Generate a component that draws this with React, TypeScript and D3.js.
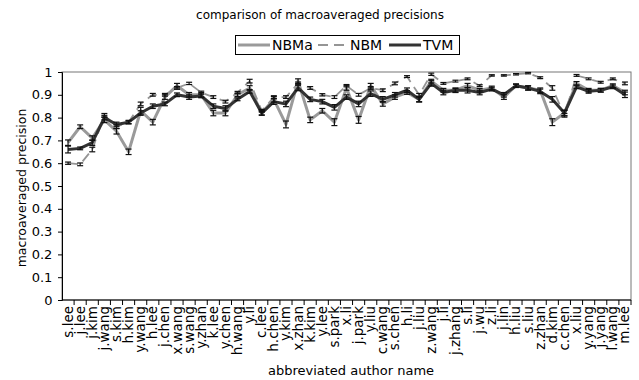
import React, { useEffect, useRef } from 'react';
import * as d3 from 'd3';

const categories = [
  's.lee', 'j.lee', 'j.kim', 'j.wang', 's.kim', 'h.kim', 'y.wang', 'h.lee', 'j.chen', 'x.wang',
  's.wang', 'y.zhan', 'k.lee', 'y.chen', 'h.wang', 'y.li', 'c.lee', 'h.chen', 'y.kim', 'x.zhan',
  'k.kim', 'y.lee', 's.park', 'x.li', 'j.park', 'y.liu', 'c.wang', 's.chen', 'h.li', 'j.liu',
  'z.wang', 'j.li', 'j.zhang', 's.li', 'j.wu', 'z.li', 'j.lin', 'h.liu', 's.liu', 'z.zhan',
  'd.kim', 'c.chen', 'x.liu', 'y.yang', 'j.yang', 'l.wang', 'm.lee',
];

const nbma = [
  0.69, 0.76, 0.71, 0.79, 0.74, 0.65, 0.83, 0.78, 0.89, 0.94,
  0.9, 0.9, 0.82, 0.82, 0.9, 0.93, 0.82, 0.88, 0.77, 0.96,
  0.79, 0.83, 0.78, 0.93, 0.79, 0.94, 0.86, 0.89, 0.91, 0.88,
  0.96, 0.92, 0.92, 0.94, 0.92, 0.93, 0.89, 0.94, 0.93, 0.92,
  0.78, 0.82, 0.95, 0.92, 0.92, 0.94, 0.91,
];
const nbmaErr = [
  0.012, 0.008, 0.01, 0.012, 0.012, 0.012, 0.015, 0.012, 0.01, 0.01,
  0.01, 0.01, 0.012, 0.012, 0.008, 0.01, 0.01, 0.012, 0.015, 0.01,
  0.012, 0.01, 0.015, 0.01, 0.015, 0.01, 0.01, 0.01, 0.008, 0.01,
  0.008, 0.008, 0.008, 0.01, 0.008, 0.008, 0.01, 0.008, 0.008, 0.01,
  0.015, 0.012, 0.008, 0.008, 0.008, 0.008, 0.01,
];

const nbm = [
  0.6, 0.595, 0.66, 0.81, 0.76, 0.78, 0.86, 0.9, 0.9, 0.93,
  0.95, 0.91, 0.89, 0.87, 0.91, 0.96, 0.83, 0.89, 0.89, 0.95,
  0.93, 0.9, 0.89, 0.94, 0.9, 0.93, 0.92, 0.95, 0.98, 0.9,
  0.99, 0.95, 0.96, 0.97, 0.94, 0.985, 0.985, 0.99, 0.995, 0.975,
  0.93, 0.81, 0.985, 0.97, 0.955, 0.97, 0.95,
];
const nbmErr = [
  0.005, 0.006, 0.01, 0.008, 0.008, 0.008, 0.008, 0.006, 0.006, 0.006,
  0.005, 0.006, 0.006, 0.006, 0.005, 0.008, 0.006, 0.006, 0.006, 0.006,
  0.006, 0.005, 0.006, 0.005, 0.006, 0.006, 0.006, 0.006, 0.004, 0.006,
  0.005, 0.004, 0.004, 0.004, 0.004, 0.003, 0.003, 0.003, 0.003, 0.004,
  0.01, 0.008, 0.004, 0.004, 0.004, 0.004, 0.006,
];

const tvm = [
  0.66, 0.665, 0.69, 0.8, 0.77, 0.78, 0.82, 0.85, 0.86, 0.9,
  0.89, 0.895, 0.85, 0.84, 0.88, 0.915, 0.82, 0.87, 0.86, 0.93,
  0.88, 0.87, 0.845, 0.89, 0.86, 0.905, 0.88, 0.9, 0.92, 0.88,
  0.95, 0.91, 0.92, 0.92, 0.91, 0.925, 0.9, 0.94, 0.93, 0.915,
  0.88, 0.82, 0.935, 0.915, 0.92, 0.935, 0.9,
];
const tvmErr = [
  0.015, 0.006, 0.012, 0.01, 0.01, 0.006, 0.01, 0.01, 0.008, 0.008,
  0.01, 0.008, 0.01, 0.012, 0.006, 0.008, 0.008, 0.012, 0.012, 0.012,
  0.01, 0.01, 0.012, 0.01, 0.012, 0.012, 0.012, 0.01, 0.01, 0.012,
  0.012, 0.01, 0.01, 0.012, 0.01, 0.008, 0.01, 0.006, 0.01, 0.01,
  0.012, 0.012, 0.008, 0.008, 0.008, 0.008, 0.012,
];

const yTicks = [0, 0.1, 0.2, 0.3, 0.4, 0.5, 0.6, 0.7, 0.8, 0.9, 1];

const series = [
  { name: 'NBMa', values: nbma, errors: nbmaErr, color: '#9a9a9a', width: 3, dash: null },
  { name: 'NBM', values: nbm, errors: nbmErr, color: '#959595', width: 1.8, dash: '10,6' },
  { name: 'TVM', values: tvm, errors: tvmErr, color: '#333333', width: 3, dash: null },
];

const FONT = '"DejaVu Sans", sans-serif';

const App = () => {
  const ref = useRef<SVGSVGElement | null>(null);

  useEffect(() => {
    if (!ref.current) return;
    const svg = d3.select(ref.current);
    svg.selectAll('*').remove();

    const left = 62, right = 631, top = 72, bottom = 300;

    const x = d3.scaleBand().domain(categories).range([left, right]).padding(0);
    const y = d3.scaleLinear().domain([0, 1]).range([bottom, top]);
    const cx = (i: number) => (x(categories[i]) as number) + x.bandwidth() / 2;

    svg.append('rect').attr('width', 639).attr('height', 380).attr('fill', '#fff');

    // title
    svg.append('text')
      .attr('x', 320).attr('y', 19)
      .attr('text-anchor', 'middle')
      .attr('font-family', FONT).attr('font-size', 12)
      .text('comparison of macroaveraged precisions');

    // plot frame
    svg.append('rect')
      .attr('x', left).attr('y', top)
      .attr('width', right - left).attr('height', bottom - top)
      .attr('fill', 'none').attr('stroke', '#777').attr('stroke-width', 1);

    // y axis
    const yAxis = svg.append('g')
      .attr('transform', `translate(${left},0)`)
      .call(d3.axisLeft(y).tickValues(yTicks).tickSize(4).tickFormat((d) => d3.format('')(+d)));
    yAxis.select('.domain').attr('stroke', '#000');
    yAxis.selectAll('text').attr('font-family', FONT).attr('font-size', 13).attr('fill', '#000').attr('dx', '-0.2em');

    // x axis, ticks between the categories
    const g = svg.append('g');
    g.append('line')
      .attr('x1', left).attr('x2', right).attr('y1', bottom).attr('y2', bottom)
      .attr('stroke', '#000');
    g.selectAll('.xt')
      .data(categories)
      .enter()
      .append('line')
      .attr('x1', (d) => (x(d) as number) + x.bandwidth())
      .attr('x2', (d) => (x(d) as number) + x.bandwidth())
      .attr('y1', bottom).attr('y2', bottom + 5)
      .attr('stroke', '#000');
    g.selectAll('.xl')
      .data(categories)
      .enter()
      .append('text')
      .attr('transform', (d) => `translate(${(x(d) as number) + x.bandwidth() / 2 + 4.5},${bottom + 6}) rotate(-90)`)
      .attr('text-anchor', 'end')
      .attr('font-family', FONT).attr('font-size', 13.5)
      .text((d) => d);

    // axis titles
    svg.append('text')
      .attr('x', 351).attr('y', 375)
      .attr('text-anchor', 'middle')
      .attr('font-family', FONT).attr('font-size', 13)
      .text('abbreviated author name');
    svg.append('text')
      .attr('transform', `translate(26,188) rotate(-90)`)
      .attr('text-anchor', 'middle')
      .attr('font-family', FONT).attr('font-size', 12.5)
      .text('macroaveraged precision');

    // lines
    series.forEach((s) => {
      const line = d3.line<number>().x((_, i) => cx(i)).y((d) => y(d));
      svg.append('path')
        .datum(s.values)
        .attr('d', line)
        .attr('fill', 'none')
        .attr('stroke', s.color)
        .attr('stroke-width', s.width)
        .attr('stroke-dasharray', s.dash)
        .attr('stroke-linejoin', 'round');
    });

    // error bars
    series.forEach((s) => {
      const eb = svg.append('g').attr('stroke', '#111').attr('stroke-width', 1.2);
      s.values.forEach((v, i) => {
        const e = s.errors[i];
        const xc = cx(i);
        eb.append('line').attr('x1', xc).attr('x2', xc).attr('y1', y(v - e)).attr('y2', y(v + e));
        eb.append('line').attr('x1', xc - 3).attr('x2', xc + 3).attr('y1', y(v - e)).attr('y2', y(v - e));
        eb.append('line').attr('x1', xc - 3).attr('x2', xc + 3).attr('y1', y(v + e)).attr('y2', y(v + e));
      });
    });

    // legend
    const lg = svg.append('g');
    lg.append('rect')
      .attr('x', 235.5).attr('y', 35.5).attr('width', 224).attr('height', 19)
      .attr('fill', '#fff').attr('stroke', '#000');
    const legendPos = [
      { x1: 238, x2: 270, tx: 272 },
      { x1: 318, x2: 348, tx: 350 },
      { x1: 389, x2: 421, tx: 423 },
    ];
    series.forEach((s, i) => {
      const p = legendPos[i];
      lg.append('line')
        .attr('x1', p.x1).attr('x2', p.x2).attr('y1', 45).attr('y2', 45)
        .attr('stroke', s.color).attr('stroke-width', s.width)
        .attr('stroke-dasharray', s.dash);
      lg.append('text')
        .attr('x', p.tx).attr('y', 50)
        .attr('font-family', FONT).attr('font-size', 14)
        .text(s.name);
    });
  }, []);

  return (
    <svg
      ref={ref}
      width={639}
      height={380}
      style={{ position: 'absolute', left: 0, top: 0, display: 'block' }}
    />
  );
};

export default App;
